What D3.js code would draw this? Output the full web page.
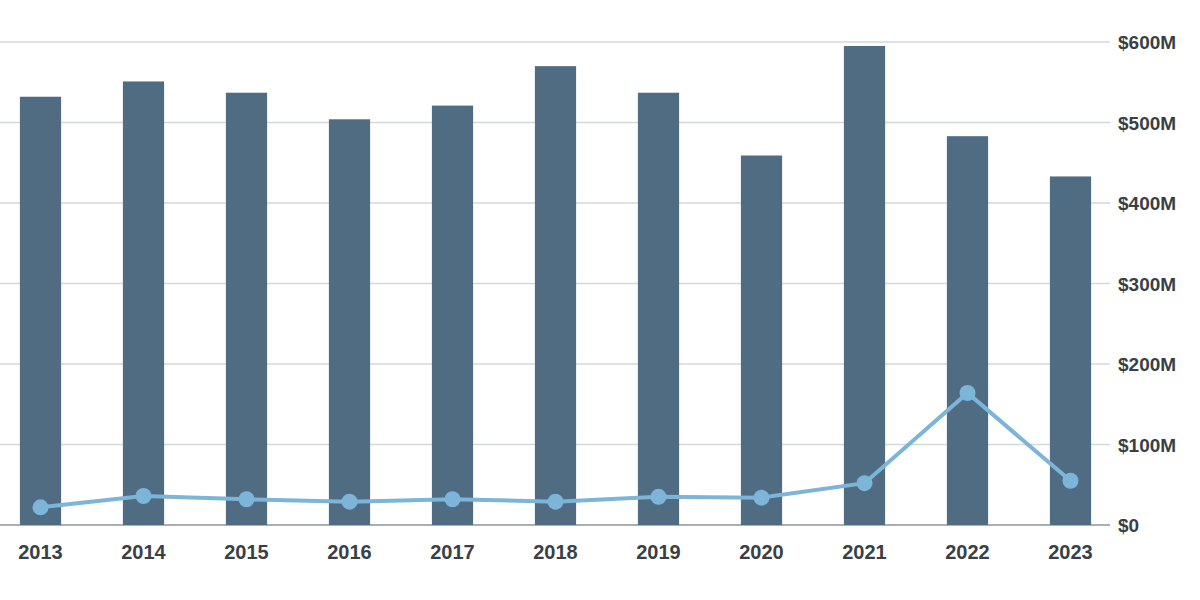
<!DOCTYPE html>
<html>
<head>
<meta charset="utf-8">
<script src="https://cdn.jsdelivr.net/npm/d3@7"></script>
<style>
  body { margin: 0; background: #fff; }
  text { font-family: "Liberation Sans", Arial, sans-serif; font-weight: bold; fill: #3a3f44; }
</style>
</head>
<body>
<svg id="chart" width="1200" height="600"></svg>
<script>
var years = ["2013","2014","2015","2016","2017","2018","2019","2020","2021","2022","2023"]
var barValues = [532, 551, 537, 504, 521, 570, 537, 459, 595, 483, 433]
var lineValues = [22, 36, 32, 29, 32, 29, 35, 34, 52, 164, 55]
var tickValues = [0, 100, 200, 300, 400, 500, 600]

var svg = d3.select("#chart")
var plotLeft = 0, plotRight = 1110, plotTop = 42, plotBottom = 525

var x = d3.scaleBand().domain(years).range([-11, 1122]).paddingInner(0.6).paddingOuter(0.3)
var y = d3.scaleLinear().domain([0, 600]).range([plotBottom, plotTop])

// grid
svg.append("g").selectAll("line").data(tickValues).enter().append("line")
  .attr("x1", plotLeft).attr("x2", plotRight)
  .attr("y1", function(d){ return y(d) }).attr("y2", function(d){ return y(d) })
  .attr("stroke", function(d){ return d == 0 ? "#a9b0b5" : "#d3d8db" })
  .attr("stroke-width", function(d){ return d == 0 ? 2 : 1.5 })

// right axis labels
svg.append("g").selectAll("text").data(tickValues).enter().append("text")
  .attr("x", 1118).attr("y", function(d){ return y(d) + 7 })
  .attr("font-size", 19)
  .text(function(d){ return "$" + d + (d == 0 ? "" : "M") })

// bars
svg.append("g").selectAll("rect").data(barValues).enter().append("rect")
  .attr("x", function(d,i){ return x(years[i]) })
  .attr("width", x.bandwidth())
  .attr("y", function(d){ return y(d) })
  .attr("height", function(d){ return plotBottom - y(d) })
  .attr("fill", "#4f6c83")

// line
var cx = function(d,i){ return x(years[i]) + x.bandwidth()/2 }
svg.append("path").datum(lineValues)
  .attr("d", d3.line().x(cx).y(function(d){ return y(d) }))
  .attr("fill", "none").attr("stroke", "#7cb5d8").attr("stroke-width", 4)
svg.append("g").selectAll("circle").data(lineValues).enter().append("circle")
  .attr("cx", cx).attr("cy", function(d){ return y(d) })
  .attr("r", 8).attr("fill", "#7cb5d8")

// x labels
svg.append("g").selectAll("text").data(years).enter().append("text")
  .attr("x", function(d){ return x(d) + x.bandwidth()/2 })
  .attr("y", 559).attr("text-anchor", "middle").attr("font-size", 20)
  .text(function(d){ return d })
</script>
</body>
</html>
